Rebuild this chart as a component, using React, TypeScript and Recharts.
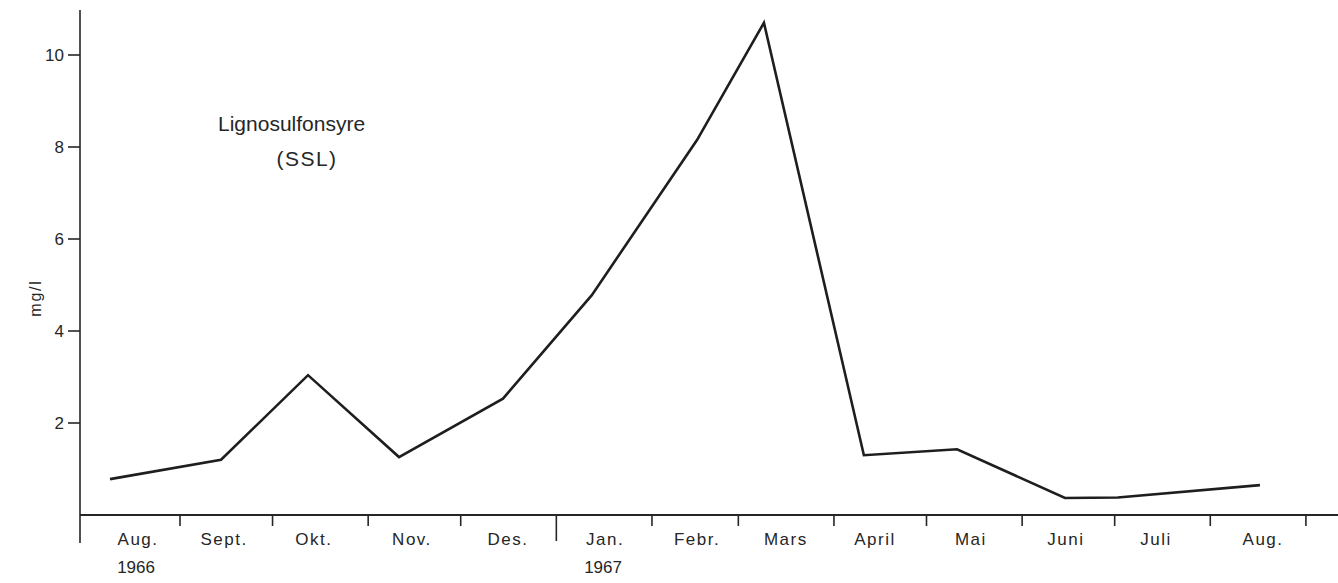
import React from 'react';
import { LineChart, Line, XAxis, YAxis } from 'recharts';

// Days counted from 1 Aug 1966
const sampleDays = [8.3, 44.3, 72.5, 102, 135.7, 164.5, 198.6, 220.3, 252.7, 282.9, 317.9, 335, 381.1];
const sslValues = [0.78, 1.2, 3.04, 1.26, 2.53, 4.78, 8.15, 10.7, 1.3, 1.43, 0.37, 0.38, 0.65];

const monthStartDays = [31, 61, 92, 122, 153, 184, 212, 243, 273, 304, 334, 365, 396];
const yearStartDays = [153];
const monthLabels = ['Aug.', 'Sept.', 'Okt.', 'Nov.', 'Des.', 'Jan.', 'Febr.', 'Mars', 'April', 'Mai', 'Juni', 'Juli', 'Aug.'];
const yearLabels = ['1966', '', '', '', '', '1967', '', '', '', '', '', '', ''];
const monthLabelDays = [17.4, 45.3, 74.4, 106.2, 137.3, 168.8, 198.6, 227.4, 256.3, 287.4, 318.2, 347.4, 382.1];
const yTicks = [2, 4, 6, 8, 10];

const DOMAIN_MIN = -1.42;
const DOMAIN_MAX = 406.4;
const Y_MAX = 10.978;

const data = sampleDays.map((d, i) => ({ day: d, ssl: sslValues[i] }));
const xTicks = [DOMAIN_MIN, ...monthStartDays, ...monthLabelDays].sort((a, b) => a - b);

const FONT = '"Liberation Sans", Arial, sans-serif';
const INK = '#262626';

const XTick = (props: any) => {
  const { x, y, payload } = props;
  const v = payload.value;
  if (v === DOMAIN_MIN) {
    return <line x1={x} x2={x} y1={y} y2={y + 28} stroke={INK} strokeWidth={1.6} />;
  }
  const li = monthLabelDays.indexOf(v);
  if (li >= 0) {
    return (
      <g>
        <text x={x} y={y + 30} textAnchor="middle" fontFamily={FONT} fontSize={17} letterSpacing={1.5} fill={INK}>
          {monthLabels[li]}
        </text>
        {yearLabels[li] ? (
          <text x={x - 2} y={y + 58} textAnchor="middle" fontFamily={FONT} fontSize={17} letterSpacing={0} fill={INK}>
            {yearLabels[li]}
          </text>
        ) : null}
      </g>
    );
  }
  const len = yearStartDays.includes(v) ? 26 : 11;
  return <line x1={x} x2={x} y1={y} y2={y + len} stroke={INK} strokeWidth={1.6} />;
};

export default function App() {
  return (
    <div style={{ position: 'absolute', left: 0, top: 0, width: 1338, height: 583, background: '#fff' }}>
      <LineChart width={1338} height={583} data={data} margin={{ top: 10, right: 0, bottom: 0, left: 0 }}>
        <XAxis
          dataKey="day"
          type="number"
          domain={[DOMAIN_MIN, DOMAIN_MAX]}
          ticks={xTicks}
          interval={0}
          height={68}
          tickLine={false}
          tickSize={0}
          tickMargin={0}
          tick={<XTick />}
          axisLine={{ stroke: INK, strokeWidth: 1.8 }}
          allowDataOverflow
        />
        <YAxis
          type="number"
          domain={[0, Y_MAX]}
          ticks={yTicks}
          width={80}
          tickSize={12}
          tickMargin={4}
          tickLine={{ stroke: INK, strokeWidth: 1.6 }}
          axisLine={{ stroke: INK, strokeWidth: 1.6 }}
          tick={{ fontFamily: FONT, fontSize: 17, fill: INK }}
          allowDataOverflow
        />
        <Line
          type="linear"
          dataKey="ssl"
          stroke="#1e1e1e"
          strokeWidth={2.6}
          dot={false}
          isAnimationActive={false}
        />
        <text x={41} y={298} transform="rotate(-90, 41, 298)" textAnchor="middle" fontFamily={FONT} fontSize={16} letterSpacing={1.8} fill={INK}>
          mg/l
        </text>
        <text x={218} y={131} fontFamily={FONT} fontSize={21} letterSpacing={0} fill={INK}>
          Lignosulfonsyre
        </text>
        <text x={307} y={166} textAnchor="middle" fontFamily={FONT} fontSize={21} letterSpacing={1.5} fill={INK}>
          (SSL)
        </text>
      </LineChart>
    </div>
  );
}
